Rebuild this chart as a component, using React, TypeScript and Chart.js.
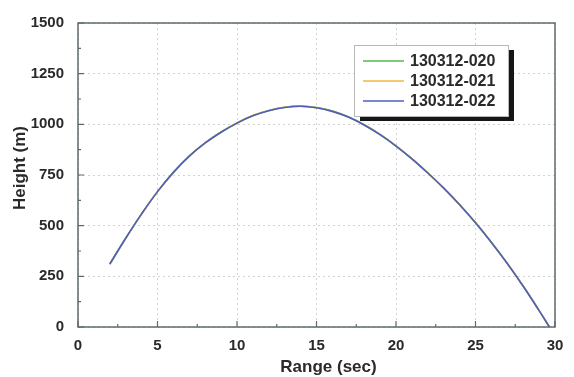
import React, { useEffect, useRef } from 'react';
import { Chart, registerables } from 'chart.js';

Chart.register(...registerables);

// ---- data ----
const rangeSec = [2, 3, 4, 5, 6, 7, 8, 9, 10, 11, 12, 13, 14, 15, 16, 17, 18, 19, 20, 21, 22, 23, 24, 25, 26, 27, 28, 29, 29.65];
const height020 = [311, 438, 558, 668, 763, 843, 908, 962, 1007, 1043, 1068, 1084, 1090, 1083, 1066, 1037, 998, 950, 894, 831, 761, 686, 604, 515, 418, 314, 202, 82, 0];
const height021 = [309, 437, 557, 667, 763, 844, 909, 962, 1007, 1043, 1068, 1084, 1089, 1082, 1064, 1036, 997, 949, 893, 830, 760, 685, 603, 514, 417, 313, 201, 81, 0];
const height022 = [311, 438, 558, 668, 763, 843, 908, 961, 1006, 1042, 1067, 1083, 1089, 1082, 1064, 1036, 997, 949, 893, 830, 760, 685, 603, 514, 417, 313, 201, 81, 0];

const seriesNames = ['130312-020', '130312-021', '130312-022'];
const seriesColors = ['#55b655', '#f2b73c', '#4d5fbe'];

const xMin = 0;
const xMax = 30;
const xStep = 5;
const yMin = 0;
const yMax = 1500;
const yStep = 250;

const xTitle = 'Range (sec)';
const yTitle = 'Height (m)';

const FONT = "'Liberation Sans', Arial, Helvetica, sans-serif";
const TEXT_COLOR = '#2a2a2a';
const FRAME_COLOR = '#5f6a6e';

const decorPlugin = {
  id: 'decor',
  afterDraw(chart: any) {
    const { ctx, chartArea, scales } = chart;
    const { left, right, top, bottom } = chartArea;
    const xs = scales.x;
    const ys = scales.y;
    ctx.save();

    // frame
    ctx.strokeStyle = FRAME_COLOR;
    ctx.lineWidth = 1.5;
    ctx.setLineDash([]);
    ctx.strokeRect(left, top, right - left, bottom - top);

    // inward ticks (major + minor)
    ctx.lineWidth = 1.2;
    ctx.beginPath();
    for (let v = xMin; v <= xMax + 1e-9; v += xStep / 2) {
      const px = xs.getPixelForValue(v);
      const len = Math.abs(v % xStep) < 1e-9 ? 6 : 3;
      ctx.moveTo(px, bottom);
      ctx.lineTo(px, bottom - len);
    }
    for (let v = yMin; v <= yMax + 1e-9; v += yStep / 2) {
      const py = ys.getPixelForValue(v);
      const len = Math.abs(v % yStep) < 1e-9 ? 6 : 3;
      ctx.moveTo(left, py);
      ctx.lineTo(left + len, py);
    }
    ctx.stroke();

    // axis titles
    ctx.fillStyle = TEXT_COLOR;
    ctx.font = `bold 17px ${FONT}`;
    ctx.textAlign = 'center';
    ctx.textBaseline = 'middle';
    ctx.fillText(xTitle, (left + right) / 2 + 12, bottom + 40);
    ctx.save();
    ctx.translate(20, (top + bottom) / 2 - 7);
    ctx.rotate(-Math.PI / 2);
    ctx.fillText(yTitle, 0, 0);
    ctx.restore();

    // legend with drop shadow
    const bx = right - 201;
    const by = top + 22;
    const bw = 154;
    const bh = 71;
    ctx.fillStyle = '#161616';
    ctx.fillRect(bx + 6, by + 5, bw, bh);
    ctx.fillStyle = '#ffffff';
    ctx.fillRect(bx, by, bw, bh);
    ctx.strokeStyle = '#b8b8b8';
    ctx.lineWidth = 1;
    ctx.strokeRect(bx + 0.5, by + 0.5, bw, bh);
    ctx.font = `bold 16px ${FONT}`;
    ctx.textAlign = 'left';
    ctx.textBaseline = 'middle';
    seriesNames.forEach((name, i) => {
      const ly = by + 16 + i * 20;
      ctx.strokeStyle = seriesColors[i];
      ctx.lineWidth = 1.5;
      ctx.beginPath();
      ctx.moveTo(bx + 9, ly);
      ctx.lineTo(bx + 50, ly);
      ctx.stroke();
      ctx.fillStyle = TEXT_COLOR;
      ctx.fillText(name, bx + 56, ly + 1);
    });

    ctx.restore();
  },
};

export default function App() {
  const canvasRef = useRef<HTMLCanvasElement | null>(null);

  useEffect(() => {
    if (!canvasRef.current) return;
    const seriesData = [height020, height021, height022];
    const chart = new Chart(canvasRef.current, {
      type: 'line',
      data: {
        datasets: seriesNames.map((name, i) => ({
          label: name,
          data: rangeSec.map((x, j) => ({ x, y: seriesData[i][j] })),
          borderColor: seriesColors[i],
          backgroundColor: seriesColors[i],
          borderWidth: 1.6,
          pointRadius: 0,
          fill: false,
          tension: 0.4,
          order: seriesNames.length - 1 - i,
        })),
      },
      options: {
        responsive: false,
        animation: false,
        layout: { padding: { left: 0, top: 13, right: 19, bottom: 0 } },
        plugins: {
          legend: { display: false },
          tooltip: { enabled: false },
        },
        scales: {
          x: {
            type: 'linear',
            min: xMin,
            max: xMax,
            afterFit: (s: any) => {
              s.height = 50;
            },
            ticks: {
              stepSize: xStep,
              padding: 10,
              color: TEXT_COLOR,
              font: { family: FONT, size: 15, weight: 'bold' },
              maxRotation: 0,
              callback: (v: any) => String(v),
            },
            grid: {
              drawTicks: false,
              color: '#d2d2d2',
              lineWidth: 1,
            },
            border: { display: false, dash: [2, 3] },
          },
          y: {
            type: 'linear',
            min: yMin,
            max: yMax,
            afterFit: (s: any) => {
              s.width = 78;
            },
            ticks: {
              stepSize: yStep,
              padding: 14,
              color: TEXT_COLOR,
              font: { family: FONT, size: 15, weight: 'bold' },
              callback: (v: any) => String(v),
            },
            grid: {
              drawTicks: false,
              color: '#d2d2d2',
              lineWidth: 1,
            },
            border: { display: false, dash: [2, 3] },
          },
        },
      },
      plugins: [decorPlugin],
    });
    return () => chart.destroy();
  }, []);

  return (
    <div style={{ position: 'absolute', left: 0, top: 0, width: 574, height: 377, background: '#ffffff' }}>
      <canvas ref={canvasRef} width={574} height={377} />
    </div>
  );
}
